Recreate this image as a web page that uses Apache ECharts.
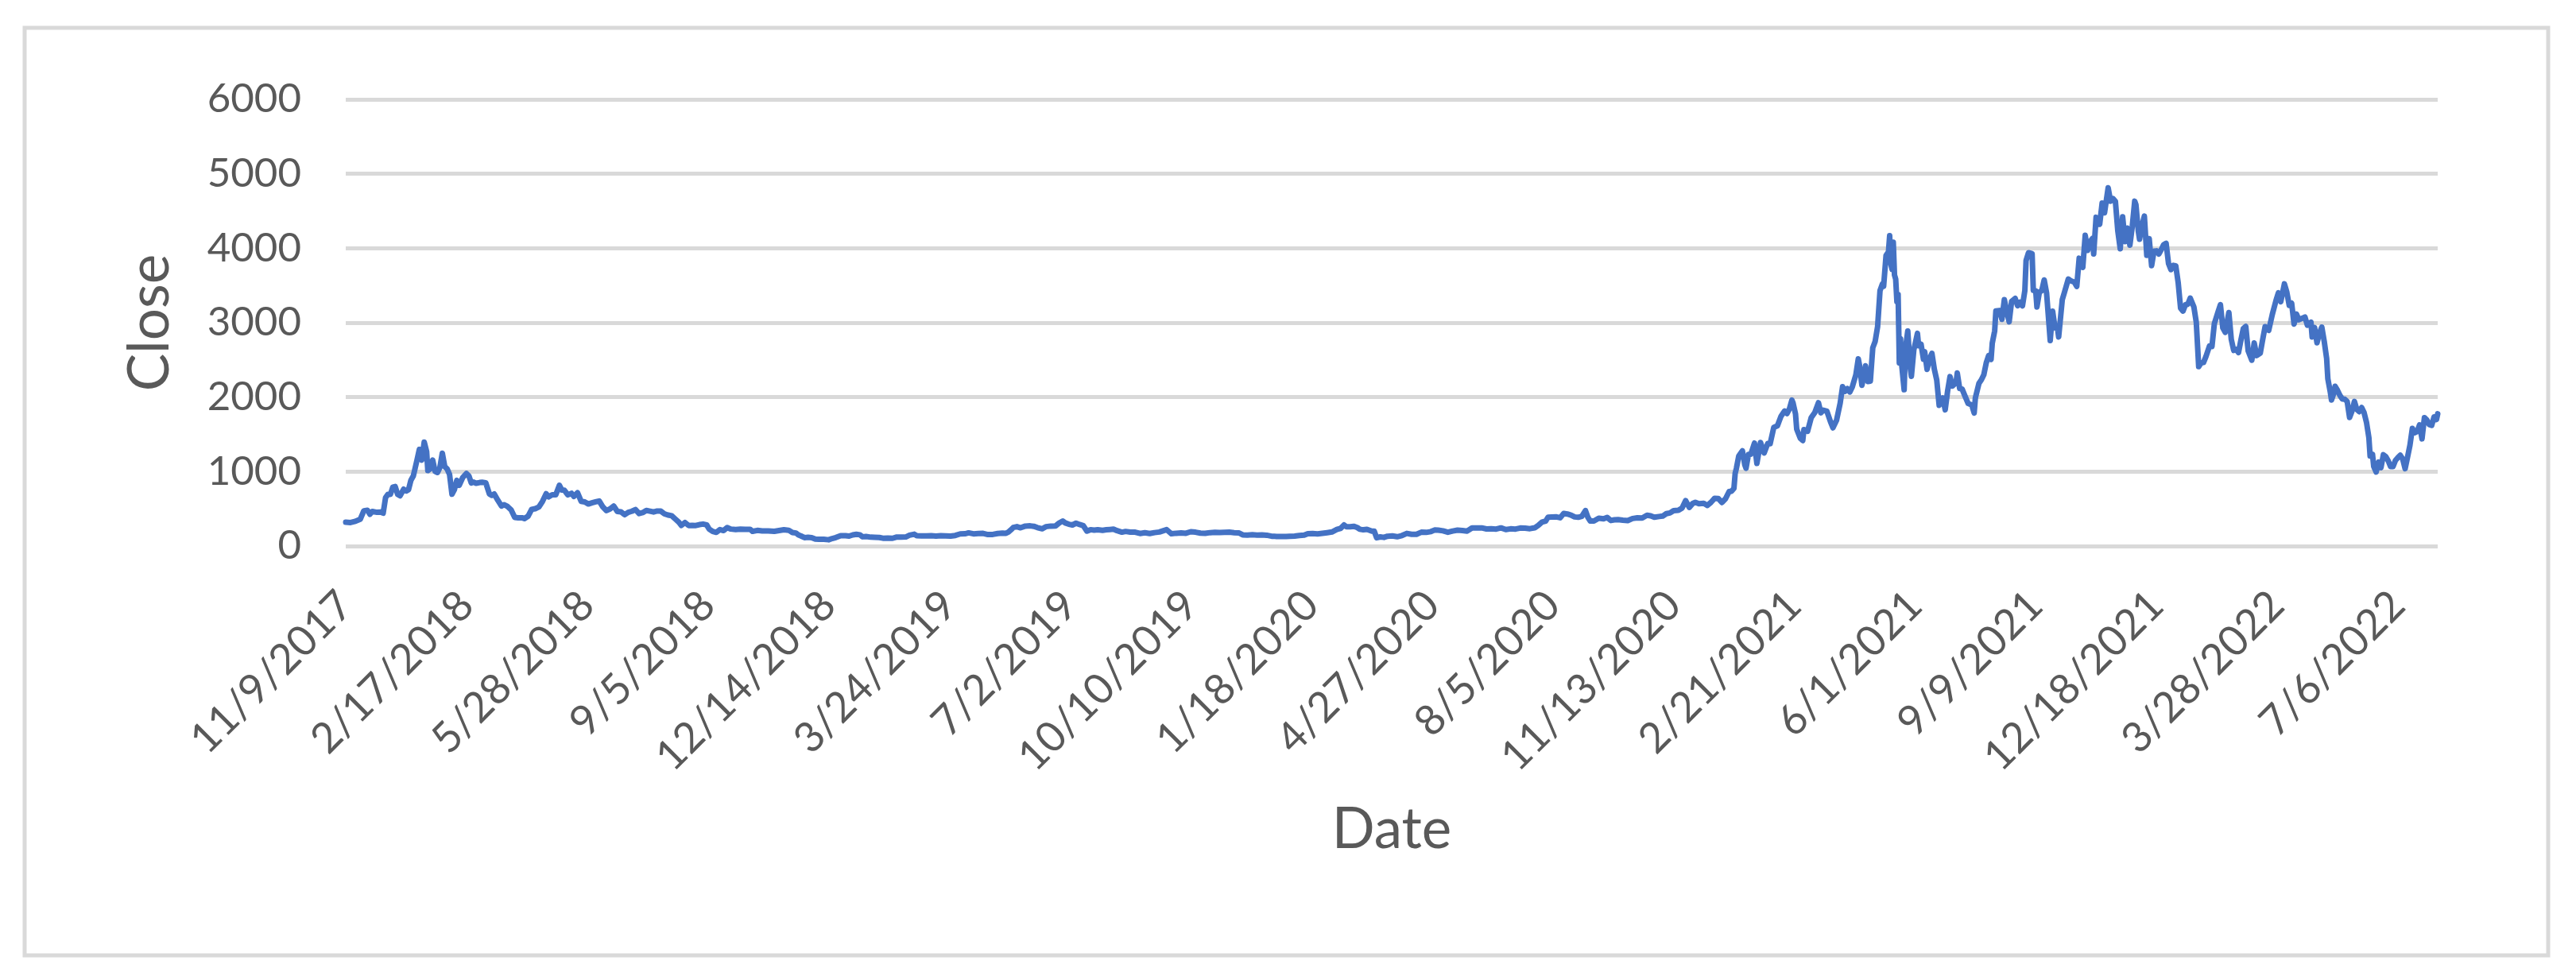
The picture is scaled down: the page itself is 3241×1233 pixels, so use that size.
<!DOCTYPE html>
<html>
<head>
<meta charset="utf-8">
<script src="https://cdn.jsdelivr.net/npm/echarts@6/dist/echarts.min.js"></script>
<style>
html,body{margin:0;padding:0;background:#fff;}
#chart{width:3241px;height:1233px;}
</style>
</head>
<body>
<div id="chart"></div>
<script>
var startDate = '11/9/2017';
var endDate = '8/8/2022';
var labelEvery = 100; // days between x tick labels
var yTicks = [0, 1000, 2000, 3000, 4000, 5000, 6000];

var sampleDates = [
'11/9/2017','11/13/2017','11/17/2017','11/21/2017','11/24/2017','11/27/2017','11/29/2017','12/1/2017','12/5/2017','12/8/2017',
'12/10/2017','12/12/2017','12/14/2017','12/16/2017','12/18/2017','12/20/2017','12/22/2017','12/24/2017','12/27/2017','12/29/2017',
'12/31/2017','1/2/2018','1/4/2018','1/7/2018','1/9/2018','1/11/2018','1/13/2018','1/15/2018','1/16/2018','1/18/2018',
'1/20/2018','1/22/2018','1/24/2018','1/26/2018','1/28/2018','1/30/2018','2/1/2018','2/3/2018','2/5/2018','2/7/2018',
'2/9/2018','2/11/2018','2/14/2018','2/17/2018','2/19/2018','2/21/2018','2/23/2018','2/25/2018','2/28/2018','3/2/2018',
'3/5/2018','3/8/2018','3/10/2018','3/12/2018','3/15/2018','3/18/2018','3/20/2018','3/23/2018','3/26/2018','3/29/2018',
'4/1/2018','4/4/2018','4/6/2018','4/9/2018','4/12/2018','4/15/2018','4/18/2018','4/21/2018','4/24/2018','4/26/2018',
'4/29/2018','5/2/2018','5/5/2018','5/7/2018','5/9/2018','5/12/2018','5/15/2018','5/17/2018','5/20/2018','5/23/2018',
'5/26/2018','5/29/2018','6/1/2018','6/4/2018','6/7/2018','6/10/2018','6/13/2018','6/16/2018','6/19/2018','6/22/2018',
'6/25/2018','6/28/2018','7/1/2018','7/4/2018','7/7/2018','7/10/2018','7/13/2018','7/16/2018','7/19/2018','7/22/2018',
'7/25/2018','7/28/2018','7/31/2018','8/3/2018','8/6/2018','8/9/2018','8/12/2018','8/14/2018','8/17/2018','8/20/2018',
'8/23/2018','8/26/2018','8/29/2018','9/1/2018','9/4/2018','9/6/2018','9/9/2018','9/12/2018','9/15/2018','9/18/2018',
'9/21/2018','9/24/2018','9/28/2018','10/2/2018','10/6/2018','10/10/2018','10/12/2018','10/16/2018','10/20/2018','10/25/2018',
'10/30/2018','11/3/2018','11/7/2018','11/11/2018','11/14/2018','11/17/2018','11/19/2018','11/21/2018','11/24/2018','11/27/2018',
'11/30/2018','12/3/2018','12/6/2018','12/10/2018','12/14/2018','12/17/2018','12/20/2018','12/24/2018','12/28/2018','12/31/2018',
'1/3/2019','1/6/2019','1/9/2019','1/11/2019','1/14/2019','1/18/2019','1/21/2019','1/25/2019','1/28/2019','2/1/2019',
'2/5/2019','2/8/2019','2/12/2019','2/16/2019','2/19/2019','2/23/2019','2/25/2019','3/1/2019','3/5/2019','3/9/2019',
'3/13/2019','3/17/2019','3/21/2019','3/25/2019','3/29/2019','4/2/2019','4/6/2019','4/9/2019','4/13/2019','4/17/2019',
'4/21/2019','4/25/2019','4/29/2019','5/3/2019','5/7/2019','5/10/2019','5/12/2019','5/14/2019','5/16/2019','5/19/2019',
'5/22/2019','5/26/2019','5/30/2019','6/2/2019','6/5/2019','6/9/2019','6/12/2019','6/16/2019','6/20/2019','6/23/2019',
'6/26/2019','6/28/2019','7/1/2019','7/4/2019','7/7/2019','7/10/2019','7/13/2019','7/16/2019','7/19/2019','7/22/2019',
'7/25/2019','7/29/2019','8/1/2019','8/4/2019','8/7/2019','8/10/2019','8/14/2019','8/17/2019','8/21/2019','8/25/2019',
'8/29/2019','9/2/2019','9/6/2019','9/10/2019','9/14/2019','9/18/2019','9/20/2019','9/24/2019','9/28/2019','10/2/2019',
'10/6/2019','10/10/2019','10/14/2019','10/18/2019','10/22/2019','10/26/2019','10/30/2019','11/3/2019','11/7/2019','11/11/2019',
'11/15/2019','11/19/2019','11/22/2019','11/26/2019','11/30/2019','12/4/2019','12/8/2019','12/12/2019','12/16/2019','12/18/2019',
'12/20/2019','12/24/2019','12/28/2019','12/31/2019','1/4/2020','1/8/2020','1/12/2020','1/15/2020','1/19/2020','1/23/2020',
'1/27/2020','1/31/2020','2/4/2020','2/8/2020','2/11/2020','2/14/2020','2/16/2020','2/19/2020','2/22/2020','2/25/2020',
'2/27/2020','3/1/2020','3/4/2020','3/8/2020','3/10/2020','3/12/2020','3/15/2020','3/18/2020','3/21/2020','3/25/2020',
'3/29/2020','4/2/2020','4/6/2020','4/10/2020','4/14/2020','4/18/2020','4/22/2020','4/26/2020','4/29/2020','5/2/2020',
'5/6/2020','5/10/2020','5/14/2020','5/18/2020','5/22/2020','5/26/2020','5/30/2020','6/3/2020','6/7/2020','6/11/2020',
'6/15/2020','6/19/2020','6/23/2020','6/27/2020','7/1/2020','7/5/2020','7/9/2020','7/13/2020','7/17/2020','7/21/2020',
'7/24/2020','7/27/2020','7/30/2020','8/1/2020','8/4/2020','8/8/2020','8/11/2020','8/14/2020','8/17/2020','8/20/2020',
'8/23/2020','8/26/2020','8/29/2020','9/1/2020','9/3/2020','9/5/2020','9/8/2020','9/12/2020','9/16/2020','9/19/2020',
'9/22/2020','9/25/2020','9/28/2020','10/2/2020','10/6/2020','10/10/2020','10/14/2020','10/18/2020','10/22/2020','10/25/2020',
'10/28/2020','11/1/2020','11/4/2020','11/7/2020','11/10/2020','11/13/2020','11/17/2020','11/20/2020','11/23/2020','11/26/2020',
'11/29/2020','12/1/2020','12/4/2020','12/8/2020','12/11/2020','12/14/2020','12/17/2020','12/20/2020','12/23/2020','12/26/2020',
'12/29/2020','12/31/2020','1/2/2021','1/3/2021','1/4/2021','1/6/2021','1/9/2021','1/11/2021','1/12/2021','1/14/2021',
'1/16/2021','1/19/2021','1/21/2021','1/24/2021','1/27/2021','1/30/2021','2/1/2021','2/4/2021','2/7/2021','2/10/2021',
'2/13/2021','2/15/2021','2/17/2021','2/19/2021','2/20/2021','2/22/2021','2/23/2021','2/26/2021','2/28/2021','3/1/2021',
'3/4/2021','3/7/2021','3/10/2021','3/13/2021','3/15/2021','3/17/2021','3/20/2021','3/23/2021','3/25/2021','3/28/2021',
'3/31/2021','4/2/2021','4/4/2021','4/6/2021','4/8/2021','4/10/2021','4/13/2021','4/15/2021','4/16/2021','4/18/2021',
'4/20/2021','4/21/2021','4/23/2021','4/25/2021','4/27/2021','4/29/2021','5/1/2021','5/3/2021','5/5/2021','5/6/2021',
'5/8/2021','5/10/2021','5/11/2021','5/12/2021','5/13/2021','5/14/2021','5/15/2021','5/16/2021','5/17/2021','5/18/2021',
'5/19/2021','5/20/2021','5/21/2021','5/23/2021','5/24/2021','5/26/2021','5/28/2021','5/29/2021','5/31/2021','6/3/2021',
'6/4/2021','6/6/2021','6/8/2021','6/9/2021','6/11/2021','6/13/2021','6/15/2021','6/17/2021','6/19/2021','6/21/2021',
'6/22/2021','6/24/2021','6/26/2021','6/28/2021','6/30/2021','7/2/2021','7/5/2021','7/6/2021','7/8/2021','7/10/2021',
'7/12/2021','7/15/2021','7/18/2021','7/20/2021','7/21/2021','7/24/2021','7/26/2021','7/28/2021','7/30/2021','8/1/2021',
'8/3/2021','8/4/2021','8/6/2021','8/7/2021','8/10/2021','8/12/2021','8/14/2021','8/16/2021','8/18/2021','8/20/2021',
'8/23/2021','8/25/2021','8/27/2021','8/29/2021','8/31/2021','9/1/2021','9/3/2021','9/6/2021','9/7/2021','9/9/2021',
'9/10/2021','9/12/2021','9/14/2021','9/16/2021','9/18/2021','9/20/2021','9/21/2021','9/23/2021','9/25/2021','9/27/2021',
'9/28/2021','10/1/2021','10/3/2021','10/6/2021','10/8/2021','10/11/2021','10/13/2021','10/15/2021','10/18/2021','10/20/2021',
'10/22/2021','10/24/2021','10/26/2021','10/27/2021','10/29/2021','11/1/2021','11/3/2021','11/5/2021','11/8/2021','11/10/2021',
'11/12/2021','11/14/2021','11/16/2021','11/18/2021','11/20/2021','11/22/2021','11/24/2021','11/26/2021','11/28/2021','11/30/2021',
'12/1/2021','12/3/2021','12/4/2021','12/6/2021','12/8/2021','12/10/2021','12/12/2021','12/14/2021','12/16/2021','12/18/2021',
'12/20/2021','12/22/2021','12/24/2021','12/26/2021','12/28/2021','12/30/2021','1/1/2022','1/3/2022','1/5/2022','1/7/2022',
'1/9/2022','1/11/2022','1/13/2022','1/15/2022','1/18/2022','1/20/2022','1/22/2022','1/24/2022','1/26/2022','1/28/2022',
'1/31/2022','2/2/2022','2/4/2022','2/7/2022','2/9/2022','2/11/2022','2/13/2022','2/16/2022','2/18/2022','2/20/2022',
'2/22/2022','2/24/2022','2/26/2022','2/28/2022','3/2/2022','3/4/2022','3/7/2022','3/9/2022','3/11/2022','3/14/2022',
'3/16/2022','3/18/2022','3/21/2022','3/24/2022','3/27/2022','3/29/2022','3/31/2022','4/3/2022','4/5/2022','4/7/2022',
'4/9/2022','4/11/2022','4/13/2022','4/15/2022','4/18/2022','4/20/2022','4/22/2022','4/25/2022','4/26/2022','4/28/2022',
'4/30/2022','5/2/2022','5/4/2022','5/6/2022','5/8/2022','5/9/2022','5/11/2022','5/12/2022','5/14/2022','5/15/2022',
'5/17/2022','5/19/2022','5/21/2022','5/23/2022','5/25/2022','5/27/2022','5/29/2022','5/31/2022','6/2/2022','6/4/2022',
'6/6/2022','6/8/2022','6/10/2022','6/12/2022','6/13/2022','6/15/2022','6/16/2022','6/18/2022','6/20/2022','6/22/2022',
'6/24/2022','6/26/2022','6/28/2022','6/30/2022','7/2/2022','7/4/2022','7/6/2022','7/8/2022','7/10/2022','7/12/2022',
'7/14/2022','7/16/2022','7/18/2022','7/20/2022','7/22/2022','7/24/2022','7/26/2022','7/28/2022','7/30/2022','8/1/2022',
'8/3/2022','8/5/2022','8/7/2022','8/8/2022'
];

var closeValues = [
320,316,332,360,474,480,427,465,453,456,
441,651,695,694,792,799,694,675,763,739,
756,884,942,1153,1299,1154,1396,1270,1014,1037,
1155,1003,988,1055,1247,1068,1036,963,697,757,
883,815,923,974,943,848,859,843,853,856,
850,700,680,699,614,537,556,532,486,385,
379,380,368,400,492,502,524,600,703,661,
688,688,816,752,751,687,708,667,716,601,
592,565,580,593,605,525,476,499,538,465,
459,421,453,467,490,436,449,478,469,457,
470,469,433,416,407,363,319,278,316,276,
277,275,288,295,284,229,196,183,221,208,
248,228,221,226,225,225,197,210,204,202,
197,208,218,212,182,175,149,136,113,117,
113,93,91,90,84,101,114,140,138,133,
149,157,151,124,128,119,117,115,105,108,
104,119,121,122,145,159,139,135,136,138,
133,139,137,134,142,163,165,177,164,167,
170,154,156,168,173,172,188,217,249,261,
245,268,271,265,248,231,260,268,269,309,
336,311,293,283,307,289,274,200,220,213,
219,211,218,222,227,206,186,196,187,186,
169,178,168,180,188,210,220,165,172,176,
172,192,186,173,171,180,184,182,185,186,
180,176,150,148,151,146,150,145,132,132,
128,128,128,130,134,141,146,166,167,162,
170,179,189,222,236,284,259,259,265,248,
226,218,224,200,200,111,123,116,132,136,
125,141,170,158,157,186,183,194,215,213,
204,185,202,214,209,201,243,244,244,230,
231,228,244,221,231,228,242,240,233,245,
278,321,334,387,389,392,380,437,430,416,
391,386,399,477,385,335,337,374,365,384,
343,352,355,346,341,370,379,376,413,406,
387,396,402,435,444,475,480,510,610,519,
575,588,569,573,545,587,641,638,585,635,
731,737,774,975,1041,1209,1280,1091,1045,1230,
1233,1383,1110,1391,1250,1378,1375,1594,1614,1744,
1814,1781,1844,1960,1920,1775,1570,1447,1417,1565,
1541,1724,1794,1925,1790,1825,1810,1669,1588,1690,
1919,2140,2078,2114,2070,2136,2300,2515,2430,2160,
2315,2420,2210,2215,2662,2750,2945,3430,3520,3490,
3902,3952,4168,3785,3715,4080,3640,3585,3282,3380,
2460,2785,2430,2100,2640,2888,2400,2280,2633,2857,
2690,2710,2510,2610,2372,2510,2588,2376,2230,1890,
1875,1990,1830,2082,2275,2150,2195,2324,2115,2110,
2030,1915,1895,1787,1990,2187,2233,2300,2460,2558,
2506,2725,2890,3158,3164,3045,3310,3150,3012,3285,
3325,3228,3275,3225,3433,3834,3940,3927,3434,3427,
3212,3410,3430,3574,3398,2977,2759,3154,2929,2926,
2808,3310,3418,3587,3563,3545,3487,3866,3743,4174,
3972,4086,4132,3924,4416,4322,4606,4476,4812,4632,
4667,4631,4232,3992,4422,4090,4270,4040,4295,4632,
4587,4227,4120,4298,4432,3905,4130,3766,3961,3965,
3923,3982,4049,4066,3796,3713,3770,3765,3540,3195,
3156,3240,3248,3330,3213,3007,2410,2460,2465,2545,
2688,2680,2990,3143,3243,2930,2871,3137,2775,2628,
2641,2600,2768,2922,2950,2620,2496,2727,2558,2590,
2772,2946,2897,3112,3296,3401,3282,3522,3410,3233,
3262,2982,3116,3040,3061,3077,2967,3007,2808,2935,
2730,2857,2940,2749,2520,2245,2071,1961,2057,2146,
2091,2022,1975,1972,1943,1726,1812,1942,1834,1805,
1860,1793,1662,1454,1208,1232,1070,995,1128,1052,
1226,1200,1145,1067,1067,1150,1187,1219,1169,1039,
1192,1353,1581,1522,1539,1628,1440,1725,1695,1631,
1620,1735,1700,1776
];

// ---- Build daily categories and the series aligned to them ----
function parseMDY(s){var p=s.split('/');return Date.UTC(+p[2],+p[0]-1,+p[1]);}
function fmt(t){var d=new Date(t);return (d.getUTCMonth()+1)+'/'+d.getUTCDate()+'/'+d.getUTCFullYear();}
var DAY=86400000;
var t0=parseMDY(startDate), t1=parseMDY(endDate);
var categories=[];
for(var t=t0;t<=t1;t+=DAY){categories.push(fmt(t));}
var indexOf={};
categories.forEach(function(c,i){indexOf[c]=i;});
var seriesData=categories.map(function(){return null;});
sampleDates.forEach(function(d,i){ if(indexOf[d]!==undefined) seriesData[indexOf[d]]=closeValues[i]; });

var textColor='#595959';
var fontFam='Lato, "Open Sans", sans-serif';

var chart=echarts.init(document.getElementById('chart'),null,{renderer:'canvas'});
chart.setOption({
  animation:false,
  backgroundColor:'#ffffff',
  graphic:[{
    type:'rect',
    shape:{x:31,y:35,width:3175,height:1167},
    style:{fill:'none',stroke:'#D9D9D9',lineWidth:5},
    silent:true,z:-1
  }],
  grid:{left:435,right:174,top:125,bottom:546,containLabel:false},
  xAxis:{
    type:'category',
    data:categories,
    boundaryGap:false,
    axisLine:{show:false},
    axisTick:{show:false},
    splitLine:{show:false},
    axisLabel:{
      interval:labelEvery-1,
      rotate:45,
      margin:66,
      color:textColor,
      fontFamily:fontFam,
      fontSize:53
    },
    name:'Date',
    nameLocation:'middle',
    nameGap:322,
    nameTextStyle:{color:textColor,fontFamily:fontFam,fontSize:71}
  },
  yAxis:{
    type:'value',
    min:yTicks[0],
    max:yTicks[yTicks.length-1],
    interval:yTicks[1]-yTicks[0],
    axisLine:{show:false},
    axisTick:{show:false},
    splitLine:{lineStyle:{color:'#D9D9D9',width:5}},
    axisLabel:{margin:56,color:textColor,fontFamily:fontFam,fontSize:51,formatter:function(v){return String(v);}},
    name:'Close',
    nameLocation:'middle',
    nameRotate:90,
    nameGap:210,
    nameTextStyle:{color:textColor,fontFamily:fontFam,fontSize:71}
  },
  series:[{
    type:'line',
    data:seriesData,
    connectNulls:true,
    showSymbol:false,
    symbol:'none',
    sampling:null,
    lineStyle:{color:'#4472C4',width:7,join:'round',cap:'round'},
    itemStyle:{color:'#4472C4'}
  }]
});
</script>
</body>
</html>
